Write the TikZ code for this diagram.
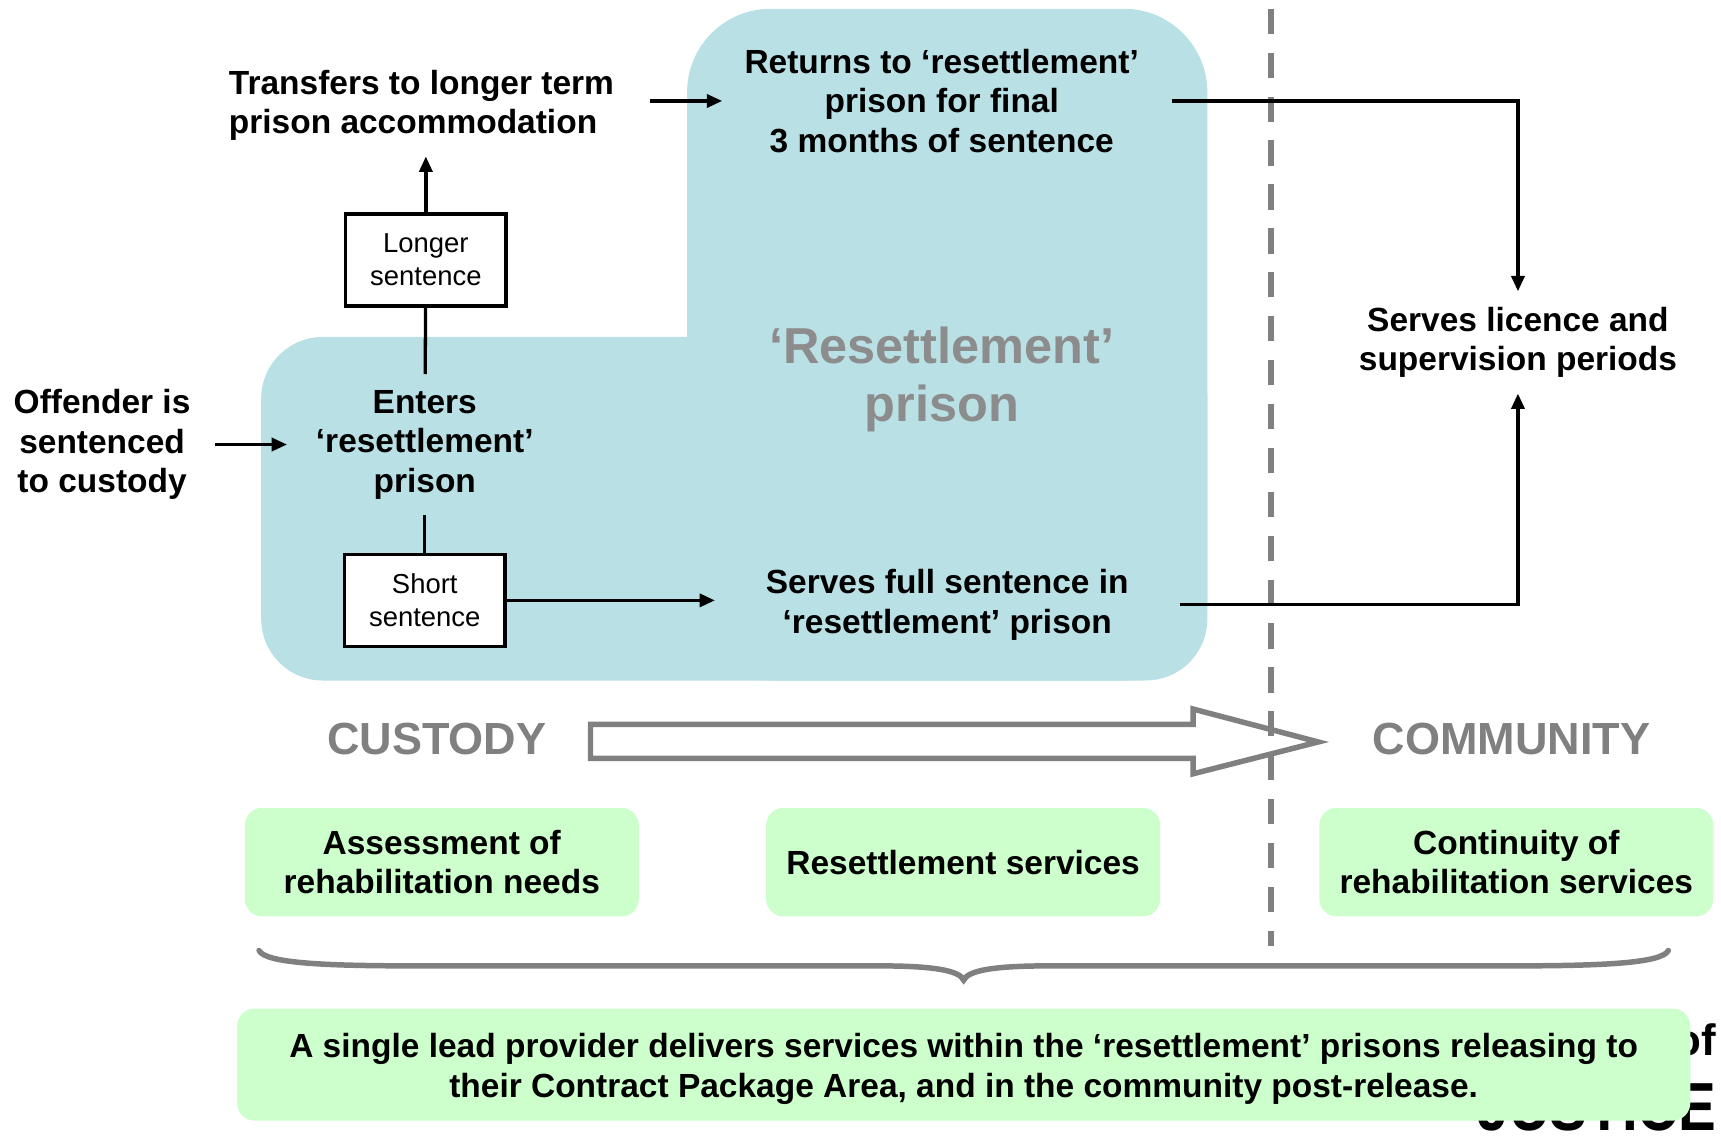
\documentclass[tikz,border=0pt]{standalone}
\usepackage{fontspec}
\setmainfont{Liberation Sans}
\usepackage{tikz}
\usetikzlibrary{arrows.meta}

\definecolor{resetblue}{RGB}{185,224,228}
\definecolor{servgreen}{RGB}{204,255,204}
\definecolor{phasegray}{RGB}{128,128,128}
\definecolor{titlegray}{RGB}{140,140,140}

\begin{document}
\begin{tikzpicture}[x=0.5pt,y=-0.5pt,
    flow/.style={font=\bfseries\fontsize{15.25}{18}\selectfont, align=center, inner sep=7pt},
    sentbox/.style={draw, line width=1.6pt, fill=white, font=\fontsize{12.5}{15}\selectfont,
        align=center, minimum width=73pt, minimum height=42pt, inner sep=0pt},
    servbox/.style={fill=servgreen, rounded corners=8pt, font=\bfseries\fontsize{15.25}{18}\selectfont,
        align=center, minimum height=49.5pt, inner sep=0pt},
    phase/.style={font=\bfseries\fontsize{20.5}{24}\selectfont, text=phasegray},
    link/.style={line width=1.5pt},
    arrow/.style={link, -{Triangle[length=7pt,width=6pt]}}]

    \useasboundingbox (0,0) rectangle (1568,1037);

    % Logo fragment behind the bottom box
    \node[anchor=base east, inner sep=0pt, font=\bfseries\fontsize{31}{36}\selectfont] (logojustice) at (1564,1030) {\scalebox{0.83}[1]{JUSTICE}};
    \node[anchor=base east, inner sep=0pt, font=\bfseries\fontsize{20}{24}\selectfont] (logoof) at (1564,962) {of};

    % Resettlement prison area
    \fill[resetblue, rounded corners=28pt] (238,307) rectangle (1100,620);
    \fill[resetblue, rounded corners=38pt] (626,8) rectangle (1100,620);

    % Custody / community border
    \coordinate (bordertop) at (1158,8);
    \coordinate (borderbot) at (1158,862);
    \draw[phasegray, line width=3pt, dash pattern=on 11.5pt off 8.5pt] (bordertop) -- (borderbot);

    % Custody to community arrow
    \draw[phasegray, line width=2.5pt, line join=miter]
        (538,660) -- (1087,660) -- (1087,646) -- (1201,676) -- (1087,705) -- (1087,691) -- (538,691) -- cycle;
    \node[phase] (custody) at (398,673) {CUSTODY};
    \node[phase] (community) at (1377,673) {COMMUNITY};

    % Steps
    \node[flow] (offender) at (93,405) {Offender is\\sentenced\\to custody};
    \node[flow] (enters) at (387,405) {Enters\\‘resettlement’\\prison};
    \node[sentbox] (longer) at (388,237) {Longer\\sentence};
    \node[sentbox] (short) at (387,547) {Short\\sentence};
    \node[flow, align=left] (transfers) at (384,96) {Transfers to longer term\\prison accommodation};
    \node[flow] (returns) at (858,92) {Returns to ‘resettlement’\\prison for final\\3 months of sentence};
    \node[flow] (fullsent) at (863,551) {Serves full sentence in\\‘resettlement’ prison};
    \node[flow] (licence) at (1383,312) {Serves licence and\\supervision periods};
    \node[font=\bfseries\fontsize{23}{26.5}\selectfont, text=titlegray, align=center] (resettitle) at (858,346) {‘Resettlement’\\prison};

    % Connectors
    \draw[arrow, shorten <=4pt, shorten >=6pt] (offender) -- (enters);
    \draw[link] (enters) -- (longer);
    \draw[arrow] (longer.north) -- (longer.north |- transfers.south);
    \draw[link] (enters) -- (short);
    \draw[arrow, shorten >=16pt] (short.east) -- (short.east -| fullsent.west);
    \draw[arrow, shorten <=9pt, shorten >=3pt] (transfers.east |- returns) -- (returns.west);
    \draw[arrow, shorten <=8pt] (returns.east) -| (licence.north);
    \draw[arrow, shorten <=16pt] (fullsent.east) -| (licence.south);

    % Services
    \node[servbox, minimum width=179.5pt] (assess) at (402.5,785.5) {Assessment of\\rehabilitation needs};
    \node[servbox, minimum width=179.5pt] (resserv) at (877.5,785.5) {Resettlement services};
    \node[servbox, minimum width=179.5pt] (contin) at (1381.5,785.5) {Continuity of\\rehabilitation services};

    % Brace
    \draw[phasegray, line width=2.5pt, line cap=round]
        (236,866) .. controls (242,878) and (300,880) .. (380,880) -- (800,880)
        .. controls (850,880) and (874,884) .. (878,893)
        .. controls (882,884) and (906,880) .. (956,880) -- (1376,880)
        .. controls (1456,880) and (1514,878) .. (1520,866);

    % Lead provider
    \node[servbox, minimum width=662pt, minimum height=51pt] (provider) at (878,970) {};
    \node[font=\bfseries\fontsize{15.25}{18}\selectfont, align=center] (providertext) at (878,974)
        {A single lead provider delivers services within the ‘resettlement’ prisons releasing to\\
         their Contract Package Area, and in the community post-release.};
\end{tikzpicture}
\end{document}
